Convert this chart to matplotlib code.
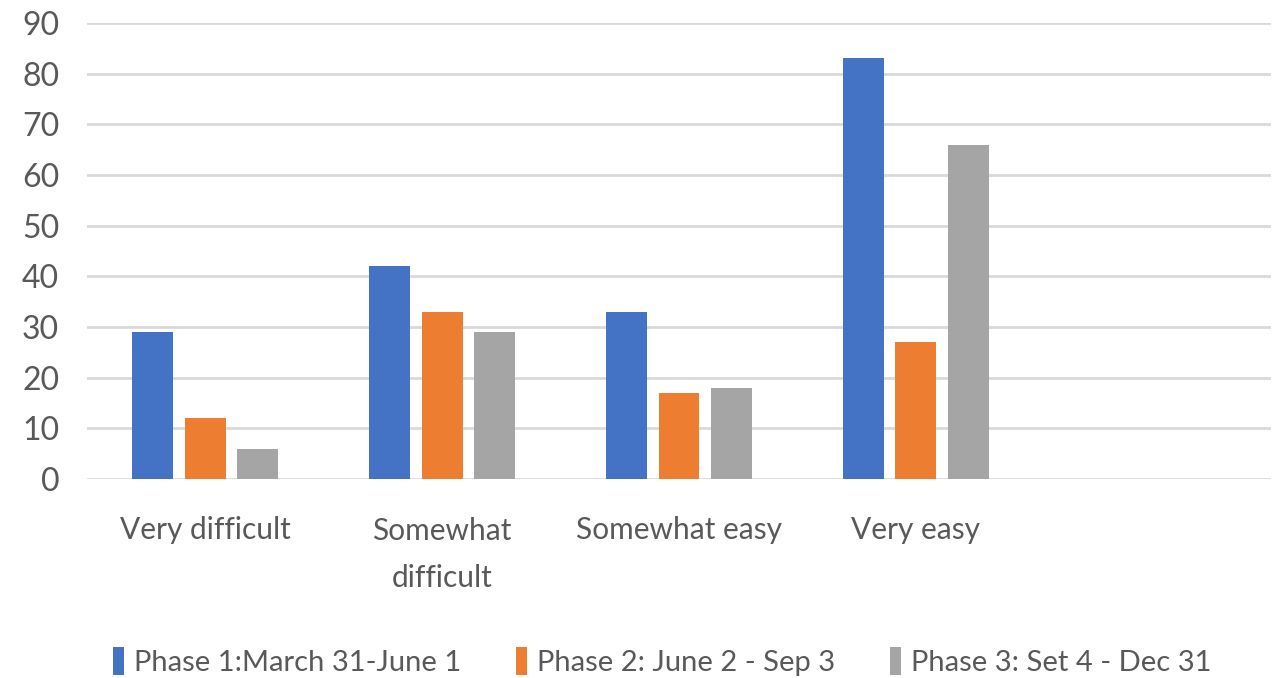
import matplotlib
matplotlib.use("Agg")
import matplotlib.pyplot as plt
import numpy as np

categories = ["Very difficult", "Somewhat\ndifficult", "Somewhat easy", "Very easy"]
series_names = ["Phase 1:March 31-June 1", "Phase 2: June 2 - Sep 3", "Phase 3: Set 4 - Dec 31"]
phase1 = [29, 42, 33, 83]
phase2 = [12, 33, 17, 27]
phase3 = [6, 29, 18, 66]
yticks = [0, 10, 20, 30, 40, 50, 60, 70, 80, 90]

colors = ["#4472C4", "#ED7D31", "#A5A5A5"]

plt.rcParams['font.family'] = ["Lato", 'DejaVu Sans']

fig = plt.figure(figsize=(12.81, 6.78), dpi=100)
ax = fig.add_axes([87/1281, 1-479/678, (1271-87)/1281, (479-23)/678])

x = np.arange(len(categories))
w = 0.173
step = 0.222
for i, (vals, name) in enumerate(zip([phase1, phase2, phase3], series_names)):
    ax.bar(x + (i-1)*step, vals, width=w, color=colors[i], label=name, zorder=3)

ax.set_xlim(-0.5, 4.5)
ax.set_ylim(0, 90)
ax.set_yticks(yticks)
ax.yaxis.grid(True, color="#D9D9D9", linewidth=2, zorder=0)
ax.set_axisbelow(True)
for s in ax.spines.values():
    s.set_visible(False)
ax.set_xticks(x)
ax.set_xticklabels(categories, fontsize=21.5, color="#595959", linespacing=1.85)
ax.tick_params(axis='x', length=0, pad=27)
ax.tick_params(axis='y', length=0, pad=20, labelsize=23, labelcolor="#595959")

leg = fig.legend(loc="lower center", bbox_to_anchor=(0.517, -0.036), ncol=3, frameon=False,
                 fontsize=21, labelcolor="#595959", handlelength=0.35, handleheight=1.1,
                 handletextpad=0.35, columnspacing=1.9)

fig.savefig("out.png", dpi=100)
